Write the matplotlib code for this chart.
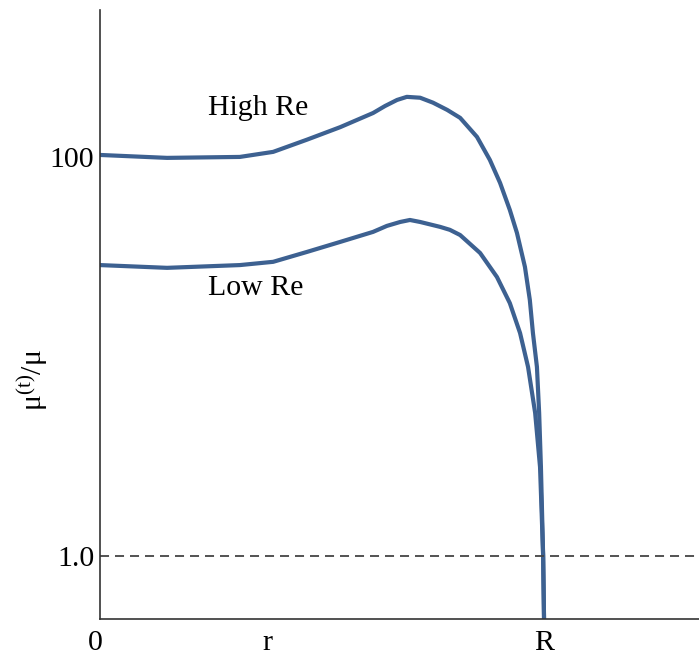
import matplotlib
matplotlib.use("Agg")
import matplotlib.pyplot as plt
import matplotlib.transforms as mtransforms

plt.rcParams['font.family'] = ['Liberation Serif', 'DejaVu Serif']
plt.rcParams['mathtext.fontset'] = 'custom'
plt.rcParams['mathtext.rm'] = 'Liberation Serif'
plt.rcParams['mathtext.it'] = 'Liberation Serif:italic'
plt.rcParams['lines.scale_dashes'] = False

# Data (x in units of R, y = mu_t/mu on log scale)
high_x = [0.0, 0.151, 0.315, 0.390, 0.466, 0.541, 0.615, 0.642, 0.669, 0.691, 0.721,
          0.750, 0.782, 0.811, 0.849, 0.878, 0.901, 0.923, 0.939, 0.957, 0.968, 0.975,
          0.984, 0.989, 0.993, 0.998, 1.0]
high_y = [102.3, 98.9, 100, 106, 122, 141, 166, 180, 193, 200, 198,
          187, 172, 157, 126, 96.6, 74.1, 54.2, 41.6, 28.1, 19.2, 13.1,
          8.86, 5.21, 2.79, 1.0, 0.483]
low_x = [0.0, 0.151, 0.315, 0.390, 0.466, 0.541, 0.615, 0.646, 0.676, 0.698, 0.721,
         0.766, 0.788, 0.811, 0.856, 0.894, 0.923, 0.946, 0.964, 0.980, 0.991, 0.998, 1.0]
low_y = [28.7, 27.8, 28.7, 29.8, 33.4, 37.5, 42.1, 45.1, 47.2, 48.3, 47.2,
         44.6, 43.1, 40.6, 33.0, 25.0, 18.5, 13.1, 8.86, 5.21, 2.79, 1.0, 0.483]
x_tick_pos = [0.0, 0.378, 1.0]
x_tick_labels = ['0', 'r', 'R']
y_tick_pos = [1.0, 100]
y_tick_labels = ['1.0', '100']

line_color = '#3d6191'
fs = 21.5

fig = plt.figure(figsize=(6.99, 6.59), dpi=100)
ax = fig.add_axes([100/699, 40/659, 599/699, 609/659])
ax.set_yscale('log')
ax.set_xlim(0, 1.349)
ax.set_ylim(0.483, 545)

ax.plot(high_x, high_y, color=line_color, lw=3, solid_capstyle='butt', solid_joinstyle='round')
ax.plot(low_x, low_y, color=line_color, lw=3, solid_capstyle='butt', solid_joinstyle='round')
ax.axhline(1.0, color='#444444', lw=1.3, dashes=(6.5, 4.3))

ax.text(0.243, 176, 'High Re', fontsize=fs, ha='left', va='center')
ax.text(0.243, 22.0, 'Low Re', fontsize=fs, ha='left', va='center')

for s in ['top', 'right']:
    ax.spines[s].set_visible(False)
for s in ['left', 'bottom']:
    ax.spines[s].set_color('#333333')
    ax.spines[s].set_linewidth(1.2)

ax.set_xticks(x_tick_pos)
ax.set_xticklabels(x_tick_labels, fontsize=fs)
ax.set_yticks(y_tick_pos)
ax.set_yticklabels(y_tick_labels, fontsize=fs)
ax.minorticks_off()
ax.tick_params(axis='both', length=0)
ax.tick_params(axis='y', pad=4)
ax.tick_params(axis='x', pad=8)
shift = mtransforms.ScaledTranslation(-5/100, 0, fig.dpi_scale_trans)
lbl0 = ax.get_xticklabels()[0]
lbl0.set_transform(lbl0.get_transform() + shift)

fig.text(33/699, 1 - 380/659, r'μ$^{\mathrm{(t)}}$/μ', rotation=90, fontsize=fs,
         ha='center', va='center')

fig.savefig('out.png', dpi=100)
